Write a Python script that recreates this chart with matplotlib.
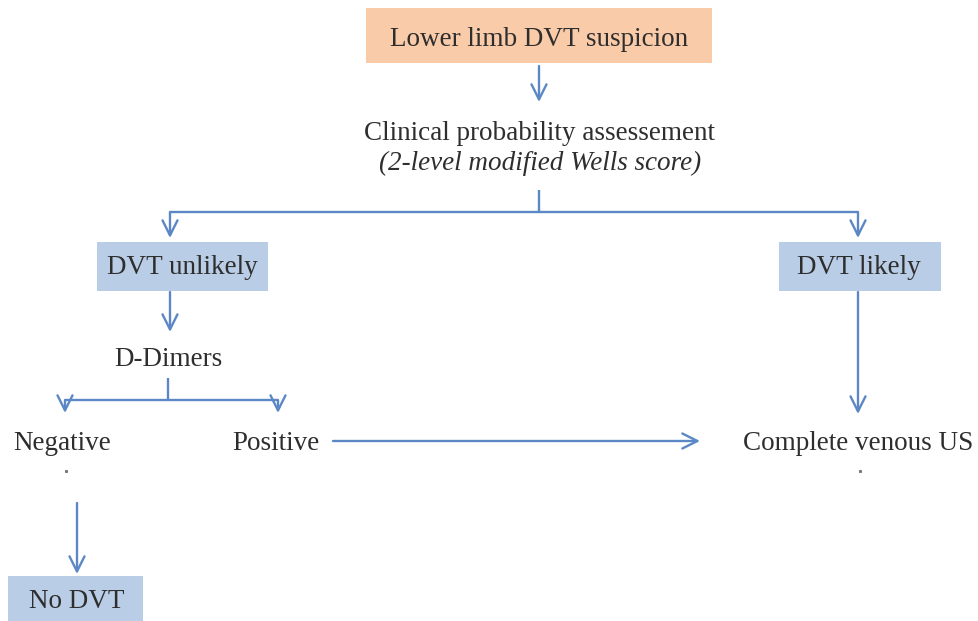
import matplotlib.pyplot as plt
from matplotlib.patches import Rectangle

# node texts
title_text = "Lower limb DVT suspicion"
assess_text = "Clinical probability assessement"
assess_sub = "(2-level modified Wells score)"
branch_labels = ["DVT unlikely", "DVT likely"]
dimer_text = "D-Dimers"
result_labels = ["Negative", "Positive"]
us_text = "Complete venous US"
end_text = "No DVT"

blue = "#5b87c5"
peach = "#f9cba8"
lightblue = "#b9cde6"
txt = "#2e2e2e"
font = "Liberation Serif"

fig = plt.figure(figsize=(9.79, 6.21), dpi=100)
ax = fig.add_axes([0, 0, 1, 1])
ax.set_xlim(0, 979)
ax.set_ylim(621, 0)
ax.axis('off')


def box(x0, y0, x1, y1, color):
    ax.add_patch(Rectangle((x0, y0), x1 - x0, y1 - y0, facecolor=color,
                           edgecolor='none', zorder=1))


def label(x, y, s, size=19.5, style='normal', ha='center'):
    # small offset so the text sits like the reference
    ax.text(x, y + 2, s, fontsize=size, family=font, style=style, color=txt,
            ha=ha, va='center', zorder=3)


def arrow(x0, y0, x1, y1):
    ax.annotate('', xy=(x1, y1), xytext=(x0, y0),
                arrowprops=dict(arrowstyle='->,head_length=0.9,head_width=0.45',
                                color=blue, lw=1.7, shrinkA=0, shrinkB=0,
                                mutation_scale=12))


def line(xs, ys):
    ax.plot(xs, ys, color=blue, lw=1.7, solid_capstyle='butt')


# top box
box(366, 8, 712, 63, peach)
label(539, 37, title_text)
arrow(539, 66, 539, 102)

label(540, 131, assess_text)
label(540, 161, assess_sub, style='italic')

# split
line([539, 539], [190, 212])
line([170, 858], [212, 212])
arrow(170, 212, 170, 238)
arrow(858, 212, 858, 238)

# branch boxes
box(97, 242, 268, 291, lightblue)
label(182, 266, branch_labels[0])
box(779, 242, 941, 291, lightblue)
label(859, 266, branch_labels[1])

# unlikely path
arrow(170, 292, 170, 332)
label(168, 358, dimer_text)
line([168, 168], [378, 400])
line([65, 278], [400, 400])
arrow(65, 400, 65, 413)
arrow(278, 400, 278, 413)

label(62, 441, result_labels[0])
label(276, 441, result_labels[1])
arrow(333, 441, 700, 441)

# likely path
arrow(858, 292, 858, 414)
label(858, 441, us_text)

# stray dots
ax.plot([66, 860], [471, 471], 's', ms=1.2, color='#777777')

# negative -> no DVT
arrow(77, 503, 77, 574)
box(8, 576, 143, 630, lightblue)
label(77, 600, end_text)

fig.savefig('out.png', dpi=100)
